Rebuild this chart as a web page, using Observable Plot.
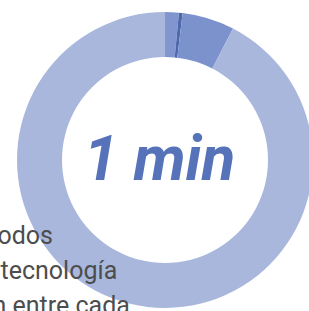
<!DOCTYPE html>
<html><head>
<meta charset="utf-8">
<script src="https://cdn.jsdelivr.net/npm/d3@7"></script>
<script src="https://cdn.jsdelivr.net/npm/@observablehq/plot@0.6"></script>
<style>body{margin:0;background:#fff;overflow:hidden}</style>
</head><body><div id="chart"></div>
<script>
const categories = ["a", "b", "c", "d"];
const values = [1.5, 0.4, 5.7, 92.4];
const colors = ["#8196cf", "#4e68ac", "#7c92cc", "#a9b7dd"];
const centerLabel = "1 min";
const sideLines = ["odos", "tecnología", "n entre cada"];

const W = 309, H = 311;
const data = categories.map((c, i) => ({category: c, value: values[i]}));
const color = Plot.scale({color: {type: "ordinal", domain: categories, range: colors}});

function donut(index, scales, vals, dims) {
  const cx = dims.width / 2 + 10.5, cy = dims.height / 2 + 4.5;
  const arcs = d3.pie().sort(null).value(d => d.value)(data);
  const arc = d3.arc().innerRadius(103).outerRadius(148);
  const g = d3.create("svg:g").attr("transform", `translate(${cx},${cy})`);
  g.selectAll("path").data(arcs).join("path")
    .attr("d", arc)
    .attr("fill", d => color.apply(d.data.category));
  return g.node();
}

const textFont = "Roboto, sans-serif";
const chart = Plot.plot({
  width: W, height: H, margin: 0,
  x: {axis: null}, y: {axis: null},
  marks: [
    donut,
    Plot.text([centerLabel], {text: d => d, frameAnchor: "middle", dx: 4.5, dy: 4.5,
      fontSize: 62, fontWeight: "bold", fontStyle: "italic", fill: "#5673b9", fontFamily: textFont}),
    Plot.text([sideLines[0]], {text: d => d, frameAnchor: "top-left", textAnchor: "start", lineAnchor: "bottom",
      dx: -3, dy: 243, fontSize: 25, fill: "#4d4d4d", fontFamily: textFont}),
    Plot.text([sideLines[1]], {text: d => d, frameAnchor: "top-left", textAnchor: "start", lineAnchor: "bottom",
      dx: 0, dy: 278, fontSize: 25, fill: "#4d4d4d", fontFamily: textFont}),
    Plot.text([sideLines[2]], {text: d => d, frameAnchor: "top-left", textAnchor: "start", lineAnchor: "bottom",
      dx: -8, dy: 313, fontSize: 25, fill: "#4d4d4d", fontFamily: textFont})
  ]
});
document.getElementById("chart").appendChild(chart);
</script>
</body></html>
